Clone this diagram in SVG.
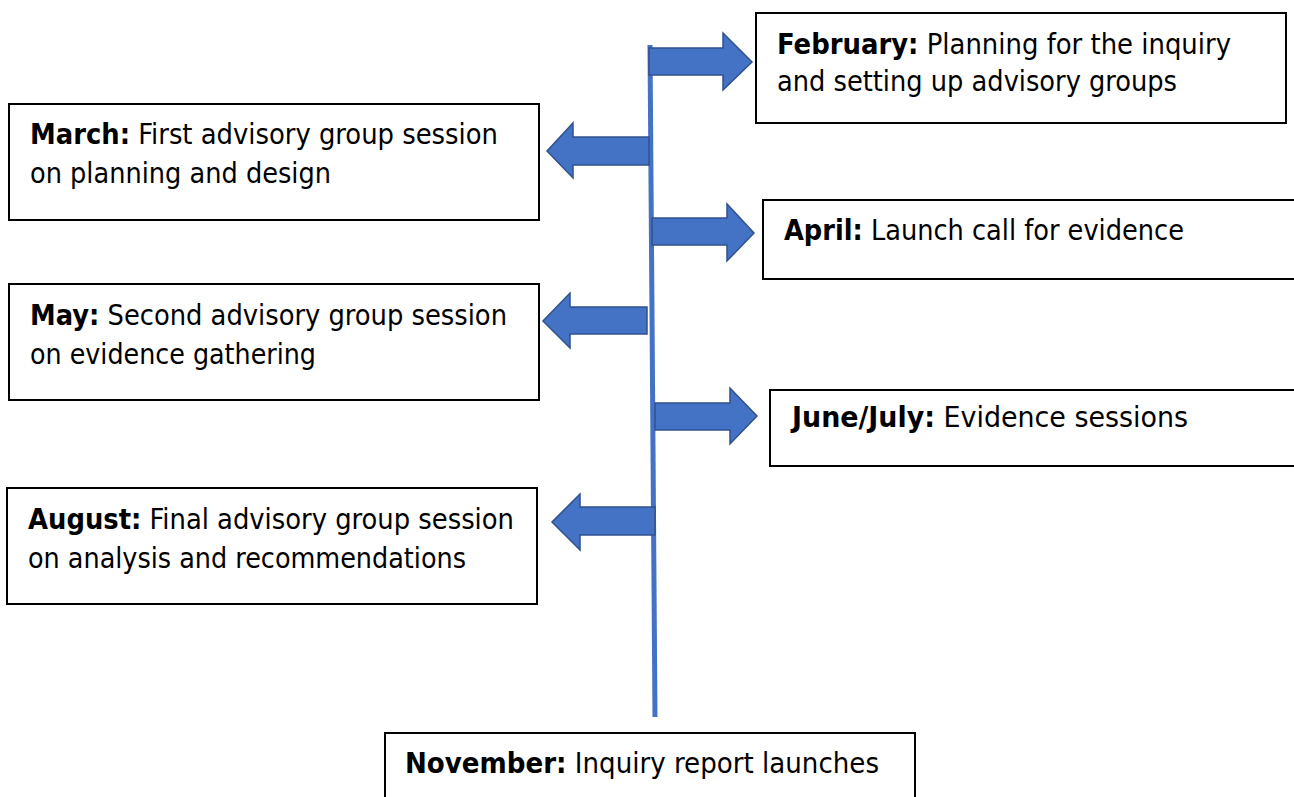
<svg xmlns="http://www.w3.org/2000/svg" width="1294" height="797" viewBox="0 0 1294 797">
<style>
.box{fill:#fff;stroke:#000;stroke-width:2}
.t{font-family:"DejaVu Sans Condensed","DejaVu Sans",sans-serif;font-size:28.5px;fill:#000}
.b{font-weight:bold}
.arr{fill:#4472C4;stroke:#2F528F;stroke-width:1.5;stroke-linejoin:miter}
</style>
<rect width="1294" height="797" fill="#fff"/>
<g id="connectors">
<line x1="650" y1="45" x2="655" y2="717" stroke="#4472C4" stroke-width="5"/>
<path class="arr" d="M649,48 H723 V33 L752,62 L723,90 V75 H649 Z"/>
<path class="arr" d="M649,137 H573 V123 L547,151 L573,178 V165 H649 Z"/>
<path class="arr" d="M652,218 H727 V204 L754,233 L727,261 V245 H652 Z"/>
<path class="arr" d="M647,307 H570 V293 L543,321 L570,348 V334 H647 Z"/>
<path class="arr" d="M655,403 H730 V388 L757,416 L730,444 V430 H655 Z"/>
<path class="arr" d="M655,507 H580 V494 L552,522 L580,550 V535 H655 Z"/>
</g>
<g id="feb">
<rect class="box" x="756" y="13" width="530" height="110"/>
<text class="t" x="777" y="54" textLength="454" lengthAdjust="spacingAndGlyphs"><tspan class="b">February:</tspan> Planning for the inquiry</text>
<text class="t" x="777" y="91" textLength="400" lengthAdjust="spacingAndGlyphs">and setting up advisory groups</text>
</g>
<g id="mar">
<rect class="box" x="9" y="104" width="530" height="116"/>
<text class="t" x="30" y="144" textLength="468" lengthAdjust="spacingAndGlyphs"><tspan class="b">March:</tspan> First advisory group session</text>
<text class="t" x="30" y="183" textLength="301" lengthAdjust="spacingAndGlyphs">on planning and design</text>
</g>
<g id="apr">
<rect class="box" x="763" y="200" width="535" height="79"/>
<text class="t" x="784" y="240" textLength="400" lengthAdjust="spacingAndGlyphs"><tspan class="b">April:</tspan> Launch call for evidence</text>
</g>
<g id="may">
<rect class="box" x="9" y="284" width="530" height="116"/>
<text class="t" x="30" y="325" textLength="477" lengthAdjust="spacingAndGlyphs"><tspan class="b">May:</tspan> Second advisory group session</text>
<text class="t" x="30" y="364" textLength="286" lengthAdjust="spacingAndGlyphs">on evidence gathering</text>
</g>
<g id="jun">
<rect class="box" x="770" y="390" width="530" height="76"/>
<text class="t" x="792" y="427" textLength="396" lengthAdjust="spacingAndGlyphs"><tspan class="b">June/July:</tspan> Evidence sessions</text>
</g>
<g id="aug">
<rect class="box" x="7" y="488" width="530" height="116"/>
<text class="t" x="28" y="529" textLength="486" lengthAdjust="spacingAndGlyphs"><tspan class="b">August:</tspan> Final advisory group session</text>
<text class="t" x="28" y="568" textLength="438" lengthAdjust="spacingAndGlyphs">on analysis and recommendations</text>
</g>
<g id="nov">
<rect class="box" x="385" y="733" width="530" height="80"/>
<text class="t" x="405" y="773" textLength="474" lengthAdjust="spacingAndGlyphs"><tspan class="b">November:</tspan> Inquiry report launches</text>
</g>
</svg>
